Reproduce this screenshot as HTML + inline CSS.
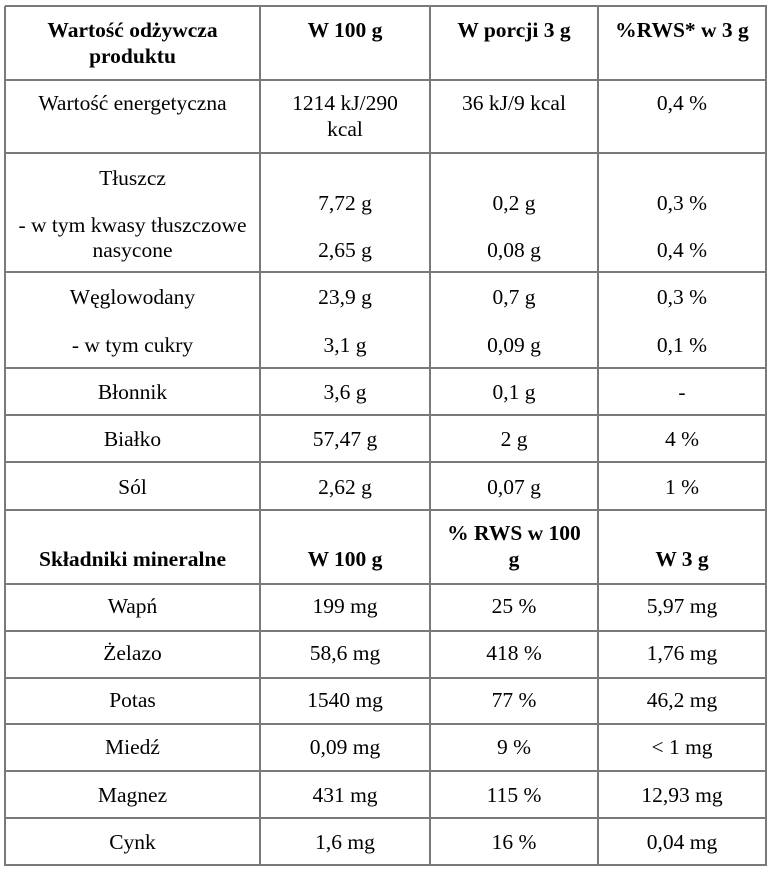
<!DOCTYPE html>
<html><head><meta charset="utf-8"><style>
body{margin:0;width:778px;height:881px;background:#fff;position:relative;overflow:hidden;font-family:"Liberation Serif","Times New Roman",serif;font-size:21.5px;color:#000}
.h{position:absolute;left:5px;width:762px;height:2px;background:#7a7a7a}
.v{position:absolute;top:6px;height:860px;width:2px;background:#7a7a7a}
.t{position:absolute;height:26px;line-height:26px;text-align:center;white-space:nowrap}
.b{font-weight:bold}
</style></head><body>
<div class="h" style="top:5px"></div><div class="h" style="top:79px"></div><div class="h" style="top:152px"></div><div class="h" style="top:271px"></div><div class="h" style="top:367px"></div><div class="h" style="top:414px"></div><div class="h" style="top:461px"></div><div class="h" style="top:509px"></div><div class="h" style="top:583px"></div><div class="h" style="top:630px"></div><div class="h" style="top:677px"></div><div class="h" style="top:723px"></div><div class="h" style="top:770px"></div><div class="h" style="top:817px"></div><div class="h" style="top:864px"></div>
<div class="v" style="left:4px"></div><div class="v" style="left:259px"></div><div class="v" style="left:429px"></div><div class="v" style="left:597px"></div><div class="v" style="left:765px"></div>
<div id="c"></div>
<script>
var C=[[5,260],[260,430],[430,598],[598,766]];
var L=[
[0,30,"Wartość odżywcza",1],[0,56,"produktu",1],[1,30,"W 100 g",1],[2,30,"W porcji 3 g",1],[3,30,"%RWS* w 3 g",1],
[0,103,"Wartość energetyczna"],[1,103,"1214 kJ/290"],[1,129,"kcal"],[2,103,"36 kJ/9 kcal"],[3,103,"0,4 %"],
[0,178,"Tłuszcz"],[0,225,"- w tym kwasy tłuszczowe"],[0,250,"nasycone"],[1,203,"7,72 g"],[1,250,"2,65 g"],[2,203,"0,2 g"],[2,250,"0,08 g"],[3,203,"0,3 %"],[3,250,"0,4 %"],
[0,297,"Węglowodany"],[1,297,"23,9 g"],[2,297,"0,7 g"],[3,297,"0,3 %"],
[0,345,"- w tym cukry"],[1,345,"3,1 g"],[2,345,"0,09 g"],[3,345,"0,1 %"],
[0,392,"Błonnik"],[1,392,"3,6 g"],[2,392,"0,1 g"],[3,392,"-"],
[0,439,"Białko"],[1,439,"57,47 g"],[2,439,"2 g"],[3,439,"4 %"],
[0,487,"Sól"],[1,487,"2,62 g"],[2,487,"0,07 g"],[3,487,"1 %"],
[0,559,"Składniki mineralne",1],[1,559,"W 100 g",1],[2,533,"% RWS w 100",1],[2,559,"g",1],[3,559,"W 3 g",1],
[0,606,"Wapń"],[1,606,"199 mg"],[2,606,"25 %"],[3,606,"5,97 mg"],
[0,653,"Żelazo"],[1,653,"58,6 mg"],[2,653,"418 %"],[3,653,"1,76 mg"],
[0,700,"Potas"],[1,700,"1540 mg"],[2,700,"77 %"],[3,700,"46,2 mg"],
[0,747,"Miedź"],[1,747,"0,09 mg"],[2,747,"9 %"],[3,747,"< 1 mg"],
[0,795,"Magnez"],[1,795,"431 mg"],[2,795,"115 %"],[3,795,"12,93 mg"],
[0,842,"Cynk"],[1,842,"1,6 mg"],[2,842,"16 %"],[3,842,"0,04 mg"]];
var h="";L.forEach(function(l){var c=C[l[0]];h+='<div class="t'+(l[3]?' b':'')+'" style="left:'+c[0]+'px;width:'+(c[1]-c[0])+'px;top:'+(l[1]-13)+'px">'+l[2].replace(/</g,'&lt;')+'</div>';});
document.getElementById('c').innerHTML=h;
</script>
</body></html>
